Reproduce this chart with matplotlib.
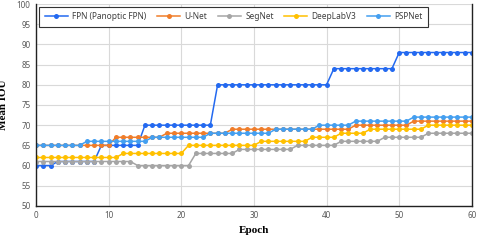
import matplotlib
matplotlib.use("Agg")
import matplotlib.pyplot as plt
import numpy as np

epochs = list(range(0, 61))

fpn = [60]*3 + [61]*6 + [65]*6 + [70]*10 + [80]*16 + [84]*9 + [88]*11
unet = [65]*11 + [67]*7 + [68]*9 + [69]*17 + [70]*8 + [71]*9
segnet = [61]*14 + [60]*8 + [63]*6 + [64]*8 + [65]*6 + [66]*6 + [67]*6 + [68]*7
deeplab = [62]*12 + [63]*9 + [65]*10 + [66]*7 + [67]*4 + [68]*4 + [69]*8 + [70]*7
pspnet = [65]*7 + [66]*9 + [67]*8 + [68]*9 + [69]*6 + [70]*5 + [71]*8 + [72]*9

series_names = ["FPN (Panoptic FPN)", "U-Net", "SegNet", "DeepLabV3", "PSPNet"]
series_values = [fpn, unet, segnet, deeplab, pspnet]
colors = ["#2369F0", "#F07D2A", "#A5A5A5", "#FFC000", "#449FF0"]

xticks = [0, 10, 20, 30, 40, 50, 60]
yticks = [50, 55, 60, 65, 70, 75, 80, 85, 90, 95, 100]

fig = plt.figure(figsize=(4.8, 2.4), dpi=100)
ax = fig.add_axes([0.075, 0.142, 0.908, 0.841])

for name, vals, c in zip(series_names, series_values, colors):
    ax.plot(epochs, vals, color=c, lw=1.1, marker="o", markersize=3.6,
            markeredgewidth=0, label=name)

ax.set_xlim(0, 60)
ax.set_ylim(50, 100)
ax.set_xticks(xticks)
ax.set_yticks(yticks)
ax.grid(True, color="#D9D9D9", lw=0.8)
ax.set_axisbelow(True)
for s in ["left", "bottom", "right"]:
    ax.spines[s].set_color("#222222")
    ax.spines[s].set_linewidth(1.0)
ax.spines["top"].set_visible(False)
ax.tick_params(length=0, labelsize=5.8, labelcolor="#595959", pad=4,
               labelfontfamily="Noto Sans")

ax.set_xlabel("Epoch", fontfamily="Liberation Serif", fontweight="bold",
              fontsize=8, labelpad=4)
ax.set_ylabel("Mean IOU", fontfamily="Liberation Serif", fontweight="bold",
              fontsize=8, labelpad=6)

leg = ax.legend(loc="upper left", bbox_to_anchor=(0.004, 0.995), ncol=5,
                prop={"family": "Noto Sans", "size": 6}, frameon=True,
                fancybox=False, edgecolor="#333333", framealpha=1,
                handlelength=2.8, columnspacing=1.25, handletextpad=0.5,
                borderpad=0.65, borderaxespad=0.2)
leg.get_frame().set_linewidth(0.8)
for t in leg.get_texts():
    t.set_color("#404040")

fig.savefig("out.png", dpi=100)
